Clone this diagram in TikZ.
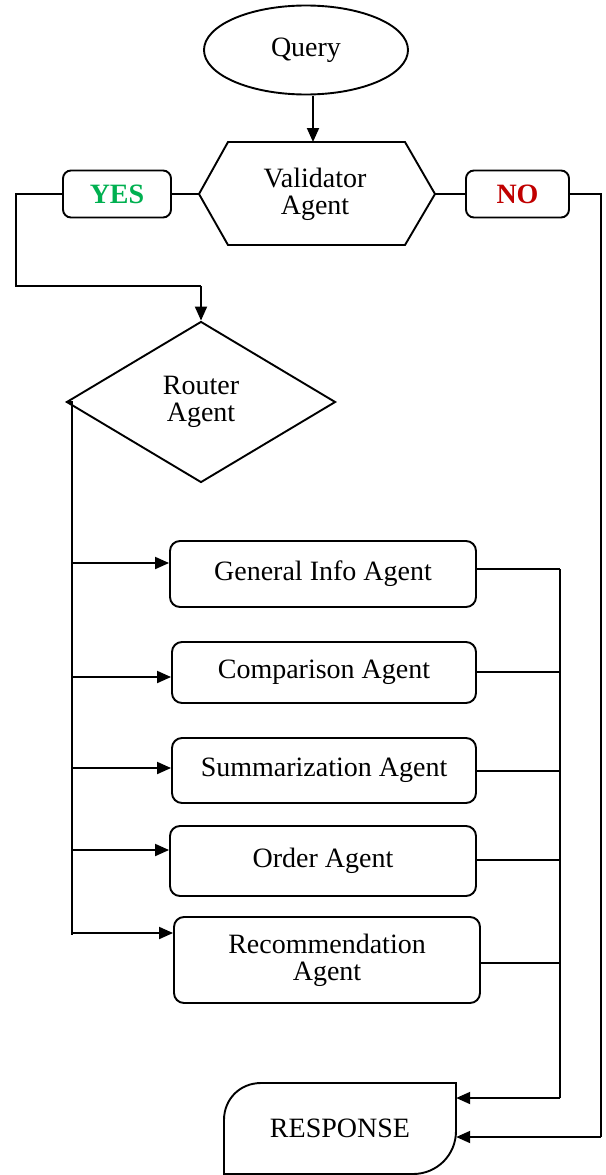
\documentclass[tikz,border=0pt]{standalone}
\usepackage{fontspec}
\setmainfont{Liberation Serif}
\usetikzlibrary{shapes.geometric,arrows.meta}
\definecolor{yesgreen}{RGB}{0,176,80}
\definecolor{nored}{RGB}{192,0,0}
\newcommand{\bigtxt}{\fontsize{28}{27}\selectfont}
\tikzset{
  ln/.style={line width=1.9pt, black},
  arr/.style={ln, -{Triangle[length=14pt,width=12pt]}},
  agentbox/.style={draw, ln, rounded corners=10pt, align=center, inner sep=0pt},
  tagbox/.style={draw, ln, rounded corners=8pt, minimum width=108pt, minimum height=47pt, inner sep=0pt, font=\bigtxt\bfseries},
  txt/.style={align=center, inner sep=0pt},
}
\begin{document}
\begin{tikzpicture}[x=1pt,y=-1pt,font=\bigtxt]
\useasboundingbox (0,0) rectangle (605,1175);
% Query
\node[draw, ln, ellipse, minimum width=204pt, minimum height=89pt, inner sep=0pt] (query) at (306,50) {Query};
% Validator hexagon
\coordinate (vl) at (199,194);
\coordinate (vr) at (435,194);
\coordinate (vt) at (313,142);
\draw[ln] (vl) -- (228,142) -- (405,142) -- (vr) -- (405,245) -- (228,245) -- cycle;
\node[txt] (val) at (315,194) {Validator\\Agent};
\coordinate (qb) at (313,96);
\draw[arr] (qb) -- (vt);
% YES / NO
\node[tagbox, text=yesgreen] (yes) at (117,194) {YES};
\node[tagbox, text=nored, minimum width=103pt] (no) at (517.5,194) {NO};
\draw[ln] (yes.east) -- (vl);
\draw[ln] (vr) -- (no.west);
% Router
\node[draw, ln, diamond, minimum width=269pt, minimum height=161pt, inner sep=0pt, align=center] (router) at (201,402) {Router\\Agent};
\coordinate (yc1) at (16,194);
\coordinate (yc2) at (16,286);
\coordinate (yc3) at (201,286);
\draw[ln] (yes.west) -- (yc1) -- (yc2) -- (yc3);
\draw[arr] (yc3) -- (router.north);
% Agents
\node[agentbox, minimum width=306pt, minimum height=66pt] (gen) at (323,574) {General Info Agent};
\node[agentbox, minimum width=304pt, minimum height=61pt] (cmp) at (324,672.5) {Comparison Agent};
\node[agentbox, minimum width=304pt, minimum height=65pt] (sum) at (324,770.5) {Summarization Agent};
\node[agentbox, minimum width=306pt, minimum height=70pt] (ord) at (323,861) {Order Agent};
\node[agentbox, minimum width=306pt, minimum height=86pt] (rec) at (327,960) {Recommendation\\Agent};
% left bus
\coordinate (lbt) at (72,402);
\coordinate (lbb) at (72,935);
\draw[ln] (router.west) -- (lbt) -- (lbb);
\coordinate (l1) at (72,563);
\coordinate (l2) at (72,677);
\coordinate (l3) at (72,768);
\coordinate (l4) at (72,850);
\coordinate (l5) at (72,933);
\draw[arr] (l1) -- (l1 -| gen.west);
\draw[arr] (l2) -- (l2 -| cmp.west);
\draw[arr] (l3) -- (l3 -| sum.west);
\draw[arr] (l4) -- (l4 -| ord.west);
\draw[arr] (l5) -- (l5 -| rec.west);
% Response
\draw[ln] (224,1174) -- (224,1120) .. controls (224,1099) and (240,1083) .. (261,1083) -- (456,1083) -- (456,1131) .. controls (456,1155) and (437,1174) .. (413,1174) -- cycle;
\node[txt, minimum width=232pt, minimum height=91pt] (resp) at (340,1128.5) {RESPONSE};
% right bus
\coordinate (r1) at (560,569);
\coordinate (r2) at (560,672);
\coordinate (r3) at (560,771);
\coordinate (r4) at (560,860);
\coordinate (r5) at (560,963);
\coordinate (rb) at (560,1098);
\draw[ln] (r1 -| gen.east) -- (r1);
\draw[ln] (r2 -| cmp.east) -- (r2);
\draw[ln] (r3 -| sum.east) -- (r3);
\draw[ln] (r4 -| ord.east) -- (r4);
\draw[ln] (r5 -| rec.east) -- (r5);
\draw[ln] (r1) -- (rb);
\draw[arr] (rb) -- (rb -| resp.east);
% NO path
\coordinate (n1) at (601,194);
\coordinate (n2) at (601,1137);
\draw[ln] (no.east) -- (n1) -- (n2);
\draw[arr] (n2) -- (n2 -| resp.east);
\end{tikzpicture}
\end{document}
